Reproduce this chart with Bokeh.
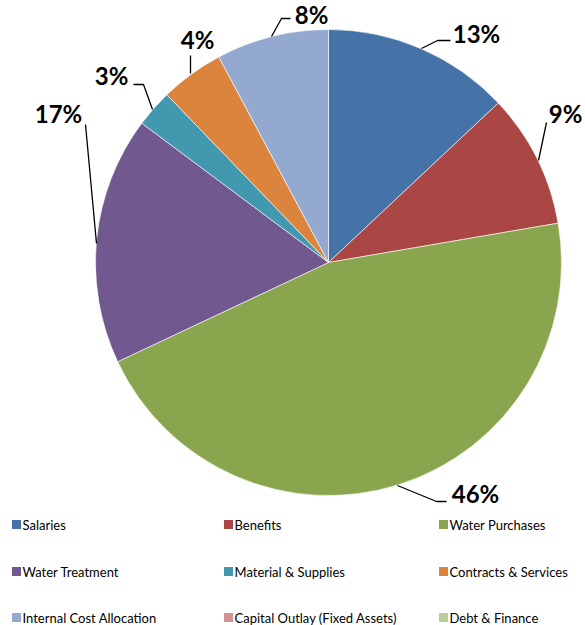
import numpy as np
from bokeh.plotting import figure
from bokeh.models import Range1d
from bokeh.core.properties import value
from bokeh.embed import file_html
from bokeh.resources import INLINE

categories = ["Salaries", "Benefits", "Water Purchases", "Water Treatment",
              "Material & Supplies", "Contracts & Services",
              "Internal Cost Allocation", "Capital Outlay (Fixed Assets)", "Debt & Finance"]
shares = [13.0, 9.3, 45.7, 17.2, 2.6, 4.4, 7.8, 0.0, 0.0]
colors = ["#4572A7", "#AA4643", "#89A54E", "#71588F", "#4198AF",
          "#DB843D", "#93A9CF", "#D19392", "#B9CD96"]

# layout (page pixel coords, y down)
W, H = 585, 625
cx, cy, R = 328, 262, 233
label_pos = [(476, 33), (565, 113), (475, 493), (58, 113), (111, 75), (197, 39), (311, 14)]
leaders = [
    [(421, 48), (437, 40), (450, 40)],
    [(538, 160), (546, 122)],
    [(397, 485), (436, 501), (446, 501)],
    [(96, 243), (85, 124)],
    [(152, 109), (143, 84), (133, 84)],
    [(190, 73), (190, 55)],
    [(271, 36), (281, 18), (290, 18)],
]
legend_cols = [11, 223, 438]
legend_rows = [524, 571, 617]

p = figure(width=W, height=H, output_backend="svg", toolbar_location=None,
           x_range=Range1d(0, W), y_range=Range1d(-H, 0),
           min_border=0)
p.axis.visible = False
p.grid.visible = False
p.outline_line_color = None
p.background_fill_color = "white"

vals = np.array(shares)
frac = vals / vals.sum()
cum = np.concatenate([[0], np.cumsum(frac)])
starts = np.pi / 2 - 2 * np.pi * cum[:-1]
ends = np.pi / 2 - 2 * np.pi * cum[1:]
for i in range(len(categories)):
    if frac[i] <= 0:
        continue
    p.wedge(x=cx, y=-cy, radius=R, start_angle=starts[i], end_angle=ends[i],
            direction="clock", fill_color=colors[i], line_color="white", line_width=0.6)

# labels
n_lab = len(label_pos)
for i in range(n_lab):
    lx, ly = label_pos[i]
    txt = f"{round(shares[i] / vals.sum() * 100):.0f}%"
    p.text(x=[lx], y=[-ly], text=[txt], text_font=value("Lato"), text_font_style="bold",
           text_font_size="24px", text_align="center", text_baseline="middle", text_color="black")
    pts = leaders[i]
    p.line(x=[q[0] for q in pts], y=[-q[1] for q in pts], line_color="black", line_width=1.3)

# legend
for i, c in enumerate(categories):
    col = legend_cols[i % 3]
    row = legend_rows[i // 3]
    p.scatter(x=[col + 5], y=[-row], marker="square", size=9, fill_color=colors[i], line_color=None)
    p.text(x=[col + 11], y=[-row], text=[c], text_font=value("Lato"), text_font_size="13px",
           text_align="left", text_baseline="middle", text_color="black")

open("out.html", "w").write(file_html(p, INLINE))
